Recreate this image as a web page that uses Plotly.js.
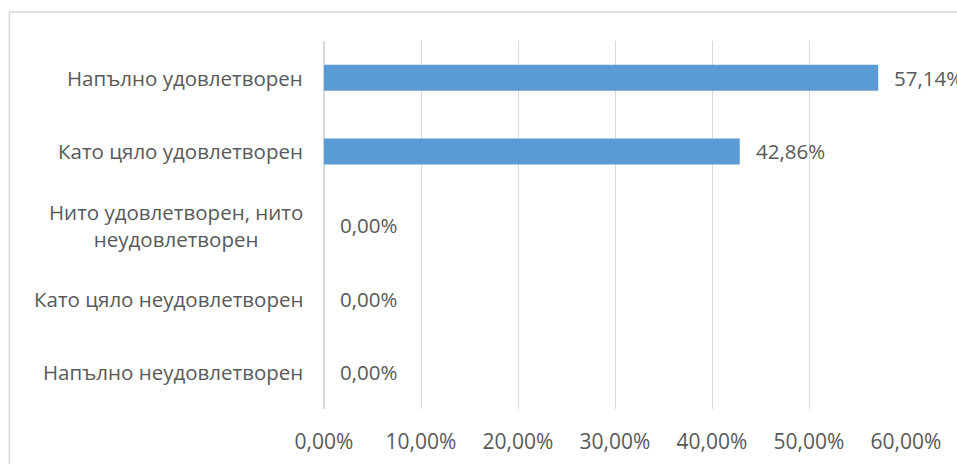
<!DOCTYPE html>
<html><head><meta charset="utf-8">
<script src="https://cdn.plot.ly/plotly-3.0.1.min.js"></script>
<style>html,body{margin:0;padding:0;background:#fff}#chart{width:957px;height:464px}</style>
</head><body><div id="chart"></div>
<script>
const categories = [
  "Напълно неудовлетворен",
  "Като цяло неудовлетворен",
  "Нито удовлетворен, нито<br>неудовлетворен",
  "Като цяло удовлетворен",
  "Напълно удовлетворен"
];
const values = [0, 0, 0, 0.4286, 0.5714];
const tickVals = [0, 0.1, 0.2, 0.3, 0.4, 0.5, 0.6];

const fontFam = "'Open Sans', 'Noto Sans', sans-serif";
const txtColor = "#595959";
const fmtPct = v => (v * 100).toFixed(2).replace('.', ',') + '%';

const trace = {
  type: 'bar', orientation: 'h',
  x: values, y: categories,
  marker: {color: '#5B9BD5'},
  hoverinfo: 'none'
};

const catAnnotations = categories.map(c => ({
  x: 0, y: c, xref: 'x', yref: 'y',
  text: c, showarrow: false,
  xanchor: 'right', xshift: -19, align: 'center',
  font: {family: fontFam, size: 20.5, color: txtColor}
}));

const valAnnotations = values.map((v, i) => ({
  x: v, y: categories[i], xref: 'x', yref: 'y',
  text: fmtPct(v), showarrow: false,
  xanchor: 'left', xshift: 14, align: 'left',
  font: {family: fontFam, size: 20.5, color: txtColor}
}));

const layout = {
  width: 957, height: 464,
  margin: {l: 324, r: 51, t: 41, b: 55},
  paper_bgcolor: '#fff', plot_bgcolor: '#fff',
  separators: ',.',
  showlegend: false,
  bargap: 0.647,
  font: {family: fontFam, color: txtColor},
  xaxis: {
    range: [0, 0.6], tickvals: tickVals, tickformat: '.2%',
    showgrid: true, gridcolor: '#d9d9d9', gridwidth: 1,
    zeroline: true, zerolinecolor: '#d9d9d9', zerolinewidth: 1.5,
    showline: false, ticks: '',
    ticklabelstandoff: 18,
    tickfont: {family: fontFam, size: 21, color: txtColor},
    fixedrange: true
  },
  yaxis: {
    categoryorder: 'array', categoryarray: categories,
    showticklabels: false, showgrid: false, zeroline: false,
    showline: false, ticks: '', fixedrange: true
  },
  annotations: catAnnotations.concat(valAnnotations),
  shapes: [
    {type: 'rect', xref: 'paper', yref: 'paper',
     x0: -0.5405, x1: 1.5, y0: -0.5, y1: 1.0788,
     line: {color: '#d9d9d9', width: 1.5}, fillcolor: 'rgba(0,0,0,0)', layer: 'below'}
  ]
};

Plotly.newPlot('chart', [trace], layout, {displayModeBar: false, staticPlot: true});
</script></body></html>
